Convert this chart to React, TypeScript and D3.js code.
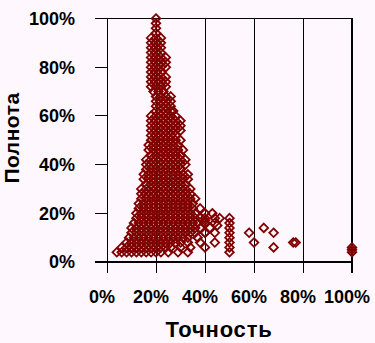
import React from "react";
import * as d3 from "d3";

// Recall levels (%) and the precision values (%) of the points on each level
const recallLevels = [
  100, 98, 96, 94, 92, 90, 88, 86, 84, 82, 80, 78, 76, 74, 72, 70, 68, 66, 64, 62,
  60, 58, 56, 54, 52, 50, 48, 46, 44, 42, 40, 38, 36, 34, 32, 30, 28, 26, 24, 22,
  20, 18, 16, 14, 12, 10, 8, 6, 4,
];
const precisionRows = [
  [20], [20], [20], [20],
  [18, 20, 22], [18, 20, 22], [18, 20, 22], [18, 20, 22],
  [18, 20, 22, 24], [18, 20, 22, 24], [18, 20, 22, 24], [18, 20, 22],
  [18, 20, 22, 24], [18, 20, 22, 24], [18, 20, 22, 24], [19, 21, 23],
  [20, 22, 24, 26], [20, 22, 24, 26], [20, 22, 24, 26], [20, 22, 24, 26, 27],
  [18, 20, 22, 24, 26, 28], [18, 20, 22, 24, 26, 28, 30], [18, 20, 22, 24, 26, 28, 30],
  [18, 20, 22, 24, 26, 28, 30], [18, 20, 22, 24, 26, 28], [18, 20, 22, 24, 26, 28, 30],
  [17, 19, 21, 23, 25, 27, 29], [17, 19, 21, 23, 25, 27, 29, 31], [18, 20, 22, 24, 26, 28, 30],
  [16, 18, 20, 22, 24, 26, 28, 30, 32], [16, 18, 20, 22, 24, 26, 28, 30, 32],
  [16, 18, 20, 22, 24, 26, 28, 30],
  [15, 17, 19, 21, 23, 25, 27, 29, 31, 33], [15, 17, 19, 21, 23, 25, 27, 29, 31, 33],
  [16, 18, 20, 22, 24, 26, 28, 30, 32],
  [14, 16, 18, 20, 22, 24, 26, 28, 30, 32, 34], [14, 16, 18, 20, 22, 24, 26, 28, 30, 32, 34],
  [14, 16, 18, 20, 22, 24, 26, 28, 30, 32, 34, 36],
  [13, 15, 17, 19, 21, 23, 25, 27, 29, 31, 33, 35],
  [13, 15, 17, 19, 21, 23, 25, 27, 29, 31, 33, 35, 38],
  [12, 14, 16, 18, 20, 22, 24, 26, 28, 30, 32, 34, 36, 40, 43],
  [12, 14, 16, 18, 20, 22, 24, 26, 28, 30, 32, 34, 36, 38, 40, 44],
  [11, 13, 15, 17, 19, 21, 23, 25, 27, 29, 31, 33, 35, 37, 40, 44],
  [10, 12, 14, 16, 18, 20, 22, 24, 26, 28, 30, 32, 34, 36, 38, 42],
  [10, 12, 14, 16, 18, 20, 22, 24, 26, 28, 30, 32, 34, 36, 40],
  [9, 11, 13, 15, 17, 19, 21, 23, 25, 27, 29, 31, 33, 37],
  [8, 10, 12, 14, 16, 18, 20, 22, 24, 26, 28, 30, 33, 38],
  [6, 8, 10, 12, 14, 16, 18, 20, 22, 24, 26, 30, 34],
  [4, 6, 8, 10, 12, 14, 16, 18, 20, 22, 25, 29, 33],
];
// Isolated points (precision %, recall %)
const outlierPrecision = [50, 50, 50, 50, 50, 50, 50, 50, 40, 40, 40, 44, 44, 45, 46, 58, 60, 64, 68, 68, 76, 77, 100, 100, 100];
const outlierRecall = [4, 6, 8, 10, 12, 14, 16, 18, 6, 12, 17, 8, 12, 15, 18, 12, 8, 14, 12, 6, 8, 8, 4, 5, 6];

const tickValues = [0, 0.2, 0.4, 0.6, 0.8, 1];
const xTitle = "Точность";
const yTitle = "Полнота";

const W = 375;
const H = 343;
const bg = "#fef8fe";
const red = "#800000";
const font = "'Liberation Sans', Arial, sans-serif";

export default function App() {
  const x = d3.scaleLinear().domain([0, 1]).range([107, 352]);
  const y = d3.scaleLinear().domain([0, 1]).range([262, 18.5]);
  const fmt = d3.format(".0%");

  const points: { p: number; r: number }[] = [];
  recallLevels.forEach((r, i) => {
    precisionRows[i].forEach((p) => points.push({ p: p / 100, r: r / 100 }));
  });
  outlierPrecision.forEach((p, i) => points.push({ p: p / 100, r: outlierRecall[i] / 100 }));

  const s = 4.3;
  const diamond = `M0,${-s}L${s},0L0,${s}L${-s},0Z`;

  return (
    <svg
      width={W}
      height={H}
      style={{ position: "fixed", left: 0, top: 0, background: bg }}
      fontFamily={font}
    >
      <rect x={0} y={0} width={W} height={H} fill={bg} />
      <g shapeRendering="crispEdges">
        {tickValues.slice(1).map((t) => (
          <line
            key={"g" + t}
            x1={x(t)}
            x2={x(t)}
            y1={y(1)}
            y2={y(0)}
            stroke="#000"
            strokeWidth={t === 1 ? 2 : 1}
          />
        ))}
        <line x1={95} x2={x(1) + 1} y1={y(1)} y2={y(1)} stroke="#000" strokeWidth={1} />
        <line x1={x(0)} x2={x(0)} y1={y(1)} y2={y(0) + 11} stroke="#000" strokeWidth={1} />
        {tickValues.map((t) => (
          <line key={"yt" + t} x1={95} x2={x(0)} y1={y(t)} y2={y(t)} stroke="#000" strokeWidth={1} />
        ))}
      </g>
      {points.map((d, i) => (
        <path
          key={i}
          d={diamond}
          transform={`translate(${x(d.p)},${y(d.r)})`}
          fill="none"
          stroke={red}
          strokeWidth={1.8}
        />
      ))}
      <g shapeRendering="crispEdges">
        <line x1={95} x2={x(1) + 1} y1={y(0)} y2={y(0)} stroke="#000" strokeWidth={2} />
        {tickValues.map((t) => (
          <line key={"xt" + t} x1={x(t)} x2={x(t)} y1={y(0)} y2={y(0) + 11} stroke="#000" strokeWidth={t === 1 ? 2 : 1} />
        ))}
      </g>
      {tickValues.map((t) => (
        <text
          key={"yl" + t}
          x={75}
          y={y(t)}
          dy="0.36em"
          textAnchor="end"
          fontSize={18}
          fontWeight="bold"
        >
          {fmt(t)}
        </text>
      ))}
      {tickValues.map((t) => (
        <text
          key={"xl" + t}
          x={x(t) - 5}
          y={303}
          textAnchor="middle"
          fontSize={18}
          fontWeight="bold"
        >
          {fmt(t)}
        </text>
      ))}
      <text x={219} y={337} textAnchor="middle" fontSize={22} fontWeight="bold" letterSpacing={0.8}>
        {xTitle}
      </text>
      <text
        transform="translate(19,138) rotate(-90)"
        textAnchor="middle"
        fontSize={21}
        fontWeight="bold"
        letterSpacing={0.5}
      >
        {yTitle}
      </text>
    </svg>
  );
}
